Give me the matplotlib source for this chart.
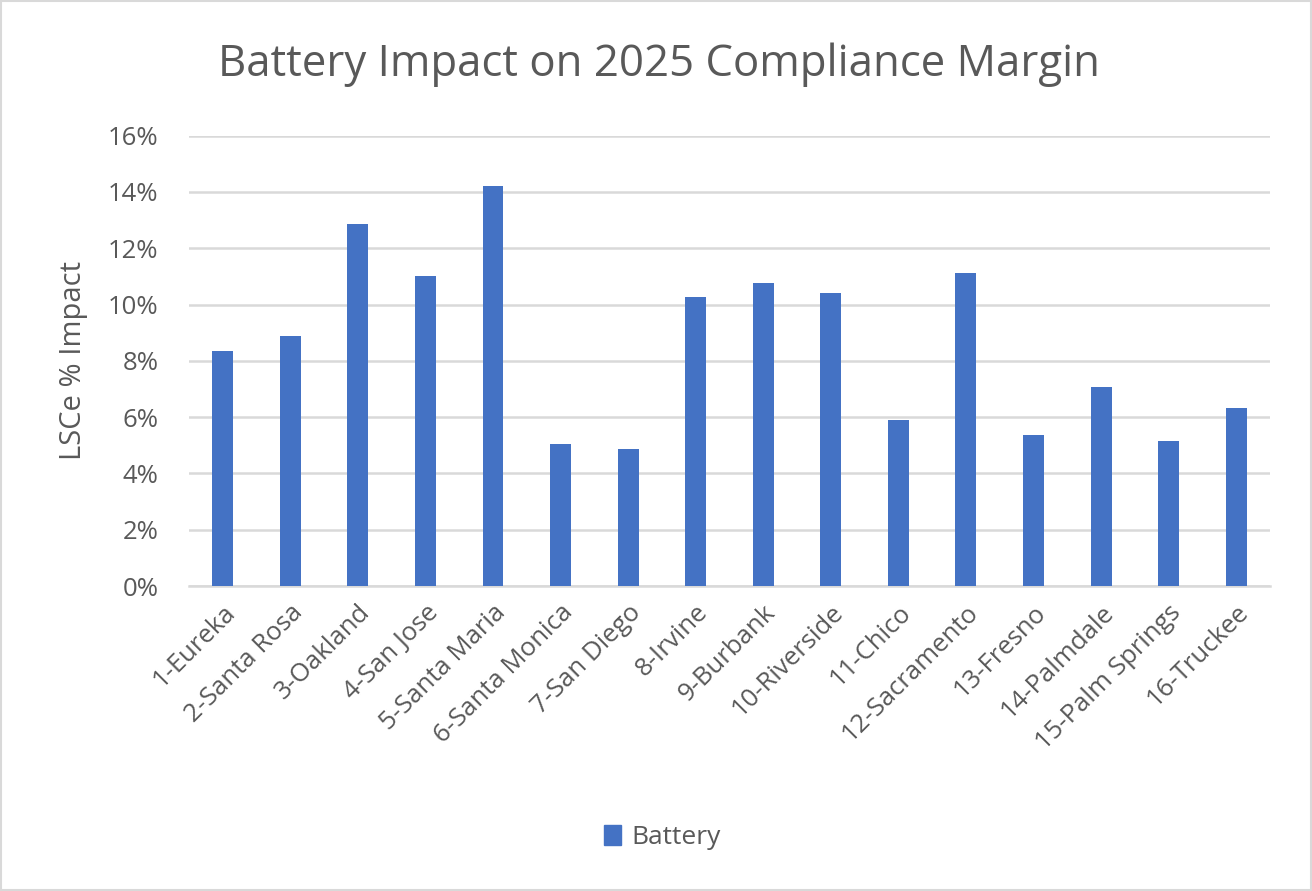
import matplotlib.pyplot as plt
import matplotlib.patches as mpatches
from matplotlib.ticker import PercentFormatter

plt.rcParams['font.family'] = ['Open Sans', 'DejaVu Sans']

cities = ["1-Eureka", "2-Santa Rosa", "3-Oakland", "4-San Jose", "5-Santa Maria",
          "6-Santa Monica", "7-San Diego", "8-Irvine", "9-Burbank", "10-Riverside",
          "11-Chico", "12-Sacramento", "13-Fresno", "14-Palmdale", "15-Palm Springs",
          "16-Truckee"]
battery = [8.36, 8.89, 12.85, 11.0, 14.2, 5.04, 4.86, 10.27, 10.75, 10.40,
           5.90, 11.13, 5.35, 7.07, 5.16, 6.34]
yticks = [0, 2, 4, 6, 8, 10, 12, 14, 16]

textColor = '#595959'
gridColor = '#D9D9D9'
barColor = '#4472C4'

fig = plt.figure(figsize=(13.12, 8.91), dpi=100)
ax = fig.add_axes([0.144, 0.3423, 0.824, 0.5054])

x = range(len(cities))
ax.bar(x, battery, width=0.31, color=barColor, label='Battery', zorder=3)

ax.set_xlim(-0.5, len(cities) - 0.5)
ax.set_ylim(0, 16)
ax.set_yticks(yticks)
ax.yaxis.set_major_formatter(PercentFormatter(decimals=0))
ax.grid(axis='y', color=gridColor, linewidth=1.8, zorder=0)
for side in ['top', 'right', 'left']:
    ax.spines[side].set_visible(False)
ax.spines['bottom'].set_color(gridColor)
ax.spines['bottom'].set_linewidth(1.8)
ax.tick_params(axis='both', length=0, labelcolor=textColor, labelsize=18.5)
ax.tick_params(axis='y', pad=22)
ax.set_xticks(list(x))
ax.set_xticklabels(cities, rotation=45, ha='right', rotation_mode='anchor')
ax.tick_params(axis='x', pad=10)

ax.set_ylabel("LSCe % Impact", color=textColor, fontsize=21, labelpad=14)
fig.text(0.502, 0.927, "Battery Impact on 2025 Compliance Margin", ha='center', va='center',
         color=textColor, fontsize=31.5)

fig.legend(handles=[mpatches.Patch(color=barColor, label='Battery')], loc='center',
           bbox_to_anchor=(0.505, 0.06), frameon=False, fontsize=19, labelcolor=textColor,
           handlelength=0.65, handleheight=0.75, handletextpad=0.4)

# thin border round the whole chart
fig.patches.append(mpatches.Rectangle((0.001, 0.001), 0.998, 0.998, transform=fig.transFigure,
                                      fill=False, edgecolor=gridColor, linewidth=1.5))

fig.savefig('out.png', dpi=100)
